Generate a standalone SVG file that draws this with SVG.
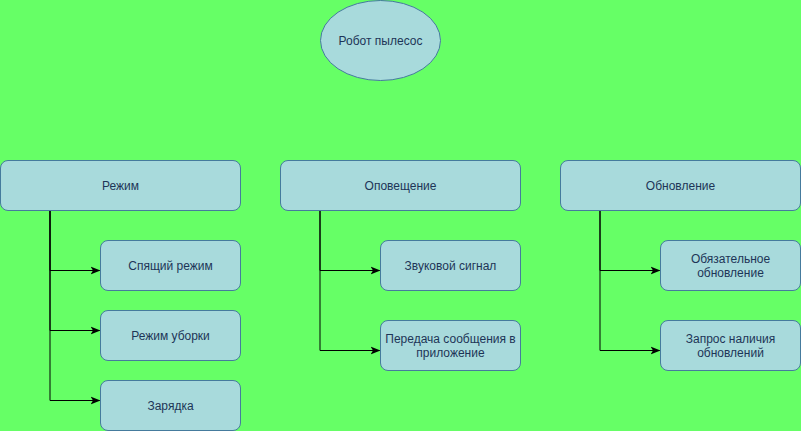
<svg xmlns="http://www.w3.org/2000/svg" width="801" height="431" viewBox="0 0 801 431">
<defs>
<style>
.box{fill:#A8DADC;stroke:#457B9D;stroke-width:1}
.t{font-family:"Liberation Sans",Arial,sans-serif;font-size:12px;fill:#1D3557;text-anchor:middle;dominant-baseline:central}
.c{fill:none;stroke:#000;stroke-width:1}
</style>
<marker id="arr" viewBox="0 0 10 10" refX="9" refY="5" markerWidth="10" markerHeight="10" markerUnits="userSpaceOnUse" orient="auto">
<path d="M0,1 L10,5 L0,9 L2.5,5 Z" fill="#000"/>
</marker>
</defs>
<rect width="801" height="431" fill="#66FF66"/>
<g id="connectors">
<path class="c" d="M50,210.5 V270.5 H99.5" marker-end="url(#arr)"/>
<path class="c" d="M50,210.5 V330.5 H99.5" marker-end="url(#arr)"/>
<path class="c" d="M50,210.5 V400.5 H99.5" marker-end="url(#arr)"/>
<path class="c" d="M320,210.5 V270.5 H379.5" marker-end="url(#arr)"/>
<path class="c" d="M320,210.5 V350.5 H379.5" marker-end="url(#arr)"/>
<path class="c" d="M600,210.5 V270.5 H659.5" marker-end="url(#arr)"/>
<path class="c" d="M600,210.5 V350.5 H659.5" marker-end="url(#arr)"/>
</g>
<g id="root"><ellipse class="box" cx="380.5" cy="40.5" rx="60" ry="40"/><text class="t" x="380.5" y="40.5">Робот пылесос</text></g>
<g id="mode"><rect class="box" x="0.5" y="160.5" width="240" height="50" rx="7.5"/><text class="t" x="120.5" y="185.5">Режим</text></g>
<g id="notify"><rect class="box" x="280.5" y="160.5" width="240" height="50" rx="7.5"/><text class="t" x="400.5" y="185.5">Оповещение</text></g>
<g id="update"><rect class="box" x="560.5" y="160.5" width="240" height="50" rx="7.5"/><text class="t" x="680.5" y="185.5">Обновление</text></g>
<g id="sleep"><rect class="box" x="100.5" y="240.5" width="140" height="50" rx="7.5"/><text class="t" x="170.5" y="265.5">Спящий режим</text></g>
<g id="clean"><rect class="box" x="100.5" y="310.5" width="140" height="50" rx="7.5"/><text class="t" x="170.5" y="335.5">Режим уборки</text></g>
<g id="charge"><rect class="box" x="100.5" y="380.5" width="140" height="50" rx="7.5"/><text class="t" x="170.5" y="405.5">Зарядка</text></g>
<g id="sound"><rect class="box" x="380.5" y="240.5" width="140" height="50" rx="7.5"/><text class="t" x="450.5" y="265.5">Звуковой сигнал</text></g>
<g id="msg"><rect class="box" x="380.5" y="320.5" width="140" height="50" rx="7.5"/><text class="t" x="450.5" y="338.5">Передача сообщения в</text><text class="t" x="450.5" y="352.5">приложение</text></g>
<g id="mandatory"><rect class="box" x="660.5" y="240.5" width="140" height="50" rx="7.5"/><text class="t" x="730.5" y="258.5">Обязательное</text><text class="t" x="730.5" y="272.5">обновление</text></g>
<g id="check"><rect class="box" x="660.5" y="320.5" width="140" height="50" rx="7.5"/><text class="t" x="730.5" y="338.5">Запрос наличия</text><text class="t" x="730.5" y="352.5">обновлений</text></g>
</svg>
